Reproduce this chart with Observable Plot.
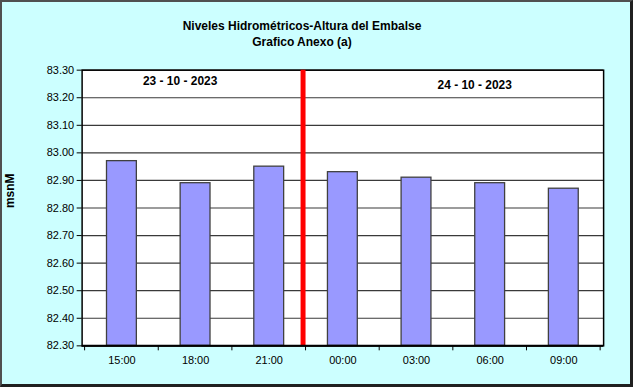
<!DOCTYPE html>
<html>
<head>
<meta charset="utf-8">
<script src="https://cdn.jsdelivr.net/npm/d3@7"></script>
<script src="https://cdn.jsdelivr.net/npm/@observablehq/plot@0.6"></script>
<style>
  html, body { margin: 0; padding: 0; background: #ffffff; }
  #chart {
    position: relative; width: 633px; height: 387px; box-sizing: border-box;
    background: #CCFFFF; font-family: "Liberation Sans", Arial, sans-serif;
    border-left: 2px solid #505050; border-top: 2px solid #505050;
    border-right: 3px solid #202020; border-bottom: 3px solid #202020;
    overflow: hidden;
  }
  #title {
    position: absolute; left: 0; top: 16px; width: 600px; text-align: center;
    font-weight: bold; font-size: 12px; line-height: 16px; color: #000;
  }
  #plot { position: absolute; left: -2px; top: -2px; }
</style>
</head>
<body>
<div id="chart">
  <div id="title">Niveles Hidrométricos-Altura del Embalse<br>Grafico Anexo (a)</div>
  <div id="plot"></div>
</div>
<script>
const times = ["15:00", "18:00", "21:00", "00:00", "03:00", "06:00", "09:00"];
const levels = [82.97, 82.89, 82.95, 82.93, 82.91, 82.89, 82.87];
const yTicks = [82.3, 82.4, 82.5, 82.6, 82.7, 82.8, 82.9, 83.0, 83.1, 83.2, 83.3];
const dateLabels = ["23 - 10 - 2023", "24 - 10 - 2023"];
const dateAnchors = ["18:00", "06:00"];
const dateLevels = [83.26, 83.245];
const dayChange = ["00:00"];
const yMin = 82.3, yMax = 83.3;

const data = times.map((t, i) => ({ time: t, level: levels[i] }));
const dates = dateLabels.map((s, i) => ({ label: s, time: dateAnchors[i], level: dateLevels[i] }));

// tick marks at band boundaries and the day-change line, drawn with the x scale
function bandBoundaryMark(which) {
  return (index, scales, values, dims) => {
    const x = scales.x;
    const step = x.step();
    const pad = (step - x.bandwidth()) / 2;
    const g = d3.create("svg:g");
    const bottom = dims.height - dims.marginBottom;
    const top = dims.marginTop;
    if (which === "ticks") {
      const xs = times.map(t => x(t) - pad).concat([x(times[times.length - 1]) - pad + step]);
      xs.forEach(xx => {
        g.append("line").attr("x1", xx).attr("x2", xx).attr("y1", bottom).attr("y2", bottom + 5)
          .attr("stroke", "#000").attr("stroke-width", 1);
      });
    } else {
      dayChange.forEach(t => {
        const xx = x(t) - pad - 2.5;
        g.append("line").attr("x1", xx).attr("x2", xx).attr("y1", top).attr("y2", bottom)
          .attr("stroke", "#FF0000").attr("stroke-width", 5);
      });
    }
    return g.node();
  };
}

const chart = Plot.plot({
  width: 633,
  height: 387,
  marginLeft: 82,
  marginTop: 70,
  marginRight: 27,
  marginBottom: 40,
  style: { background: "transparent", fontFamily: "'Liberation Sans', Arial, sans-serif", fontSize: "11px", color: "#000" },
  x: { domain: times, paddingInner: 0.6, paddingOuter: 0.3 },
  y: { domain: [yMin, yMax] },
  marks: [
    Plot.frame({ fill: "#ffffff", stroke: "none" }),
    Plot.ruleY(yTicks, { stroke: "#3a3a3a", strokeWidth: 1.2 }),
    Plot.barY(data, { x: "time", y1: yMin, y2: "level", fill: "#9999FF", stroke: "#404040", strokeWidth: 1.3 }),
    Plot.frame({ stroke: "#000", strokeWidth: 1.5 }),
    Plot.ruleX([0], { frameAnchor: "left" }),
    bandBoundaryMark("red"),
    bandBoundaryMark("ticks"),
    Plot.axisY({ ticks: yTicks, tickFormat: ".2f", tickSize: 5, tickPadding: 3, label: null, fontSize: 11 }),
    Plot.axisX({ tickSize: 0, tickPadding: 10, label: null, fontSize: 11 }),
    Plot.ruleY([yMin], { stroke: "#000", strokeWidth: 2 }),
    Plot.text(dates, { x: "time", y: "level", text: "label", dx: [-22, -29], fontWeight: "bold", fontSize: 12 }),
    Plot.text(["msnM"], { frameAnchor: "left", dx: -72, rotate: -90, fontWeight: "bold", fontSize: 12 })
  ]
});
document.getElementById("plot").appendChild(chart);
</script>
</body>
</html>
